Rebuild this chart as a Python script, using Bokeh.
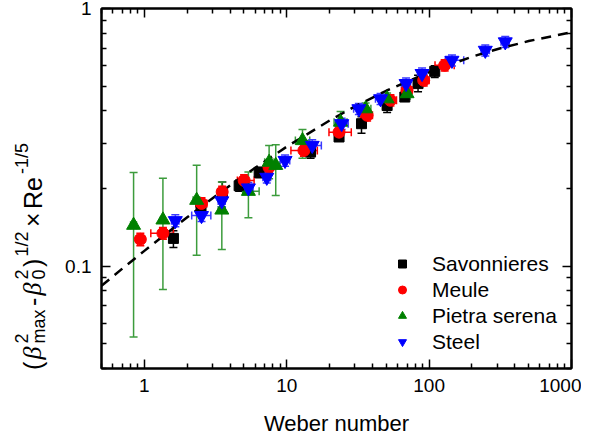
import math
from bokeh.plotting import figure
from bokeh.layouts import row
from bokeh.models import (LogAxis, FixedTicker, CustomJSTickFormatter, Whisker, TeeHead,
                          ColumnDataSource, Legend, LegendItem, Range1d)
from bokeh.embed import file_html
from bokeh.resources import INLINE

# ---------------- data ----------------
sav_we = [1.60, 2.5, 3.53, 4.63, 6.4, 14.7, 23.3, 33.5, 50.7, 67.5, 83.6, 109.5]
sav_y = [0.128, 0.170, 0.191, 0.205, 0.231, 0.277, 0.317, 0.357, 0.420, 0.453, 0.511, 0.570]
sav_ylo = [0.118, 0.158, 0.178, 0.195, 0.220, 0.262, 0.305, 0.328, 0.395, 0.440, 0.475, 0.540]
sav_yhi = [0.137, 0.182, 0.212, 0.216, 0.242, 0.292, 0.330, 0.380, 0.440, 0.468, 0.550, 0.600]
sav_welo = [1.52, 2.35, 3.35, 4.40, 6.05, 13.6, 21.8, 31.5, 47.5, 63.5, 78.5, 103.0]
sav_wehi = [1.68, 2.65, 3.72, 4.86, 6.75, 15.8, 24.8, 35.5, 54.0, 71.5, 88.5, 116.0]

meu_we = [0.937, 1.35, 2.52, 3.52, 5.02, 7.5, 13.2, 23.3, 36.7, 53.5, 70.0, 91.6, 128.6]
meu_y = [0.127, 0.134, 0.175, 0.194, 0.215, 0.242, 0.281, 0.331, 0.385, 0.440, 0.481, 0.526, 0.602]
meu_ylo = [0.120, 0.127, 0.166, 0.184, 0.204, 0.230, 0.267, 0.315, 0.366, 0.418, 0.457, 0.500, 0.572]
meu_yhi = [0.134, 0.141, 0.184, 0.204, 0.226, 0.254, 0.295, 0.348, 0.404, 0.462, 0.505, 0.552, 0.632]
meu_welo = [0.88, 1.11, 2.30, 3.30, 4.50, 7.00, 10.7, 19.8, 33.0, 48.0, 64.0, 84.0, 110.0]
meu_wehi = [1.00, 1.60, 2.75, 3.75, 5.90, 8.00, 16.4, 28.4, 40.0, 59.0, 76.0, 100.0, 150.0]

pie_we = [0.84, 1.35, 2.33, 3.5, 5.38, 7.52, 8.37, 12.9, 23.9, 35.8, 50.7, 70.0]
pie_y = [0.144, 0.151, 0.180, 0.165, 0.195, 0.253, 0.246, 0.307, 0.362, 0.408, 0.446, 0.467]
pie_ylo = [0.053, 0.081, 0.110, 0.116, 0.154, 0.218, 0.188, 0.262, 0.330, 0.385, 0.425, 0.445]
pie_yhi = [0.231, 0.219, 0.246, 0.212, 0.232, 0.294, 0.296, 0.339, 0.398, 0.430, 0.470, 0.490]
pie_welo = [0.80, 1.30, 2.20, 3.30, 4.90, 7.00, 7.90, 11.5, 21.5, 33.0, 47.0, 65.0]
pie_wehi = [0.88, 1.40, 2.45, 3.70, 6.40, 8.00, 8.90, 14.5, 26.5, 39.0, 55.0, 75.0]

ste_we = [1.65, 2.52, 3.5, 5.38, 7.24, 9.73, 15.1, 24.3, 32.1, 45.6, 68.9, 89.2, 144.7, 248.0, 342.6]
ste_y = [0.150, 0.157, 0.179, 0.201, 0.221, 0.257, 0.294, 0.357, 0.408, 0.446, 0.511, 0.559, 0.629, 0.688, 0.742]
ste_ylo = [0.142, 0.149, 0.170, 0.191, 0.210, 0.244, 0.279, 0.339, 0.388, 0.424, 0.485, 0.531, 0.598, 0.654, 0.705]
ste_yhi = [0.158, 0.165, 0.188, 0.211, 0.232, 0.270, 0.309, 0.375, 0.428, 0.468, 0.537, 0.587, 0.660, 0.722, 0.779]
ste_welo = [1.55, 2.15, 3.30, 5.00, 6.80, 9.00, 13.5, 22.0, 29.5, 42.0, 64.0, 83.0, 130.0, 232.0, 320.0]
ste_wehi = [1.75, 2.93, 3.70, 5.80, 7.70, 10.5, 17.5, 27.0, 35.0, 49.0, 74.0, 96.0, 175.0, 265.0, 365.0]

# dashed fit curve
fit_we = [0.5, 0.7, 1, 2, 3, 5, 10, 20, 30, 50, 100, 200, 300, 500, 1000]
fit_y = [0.0838, 0.0977, 0.1145, 0.1547, 0.183, 0.2246, 0.2908, 0.3673, 0.416, 0.4793,
         0.5663, 0.6497, 0.695, 0.7473, 0.8086]

x_major = [1, 10, 100, 1000]
x_minor = [0.5, 0.6, 0.7, 0.8, 0.9, 2, 3, 4, 5, 6, 7, 8, 9, 20, 30, 40, 50, 60, 70, 80, 90,
           200, 300, 400, 500, 600, 700, 800, 900]
y_major = [0.1, 1]
y_minor = [0.04, 0.05, 0.06, 0.07, 0.08, 0.09, 0.2, 0.3, 0.4, 0.5, 0.6, 0.7, 0.8, 0.9]

series_names = ["Savonnieres", "Meule", "Pietra serena", "Steel"]

FONT = "Liberation Sans"
X0, X1, Y0, Y1 = 0.5, 1000.0, 0.04, 1.0
FW, FH = 470, 360
LW = 60            # width of the strip that carries the y-axis title
LH = 400           # its height; its data units are page pixels

p = figure(x_axis_type="log", y_axis_type="log",
           x_range=Range1d(X0, X1), y_range=Range1d(Y0, Y1),
           frame_width=FW, frame_height=FH,
           min_border_left=101 - LW, min_border_right=10, min_border_top=8, min_border_bottom=10,
           output_backend="svg", toolbar_location=None)
p.xgrid.visible = False
p.ygrid.visible = False
p.outline_line_color = "black"
p.outline_line_width = 2
p.outline_line_alpha = 1.0
p.background_fill_color = "white"
p.border_fill_color = "white"

xt = FixedTicker(ticks=x_major, minor_ticks=x_minor)
yt = FixedTicker(ticks=y_major, minor_ticks=y_minor)
fmt = CustomJSTickFormatter(code="return String(tick);")


def style_axis(ax, labels=True):
    ax.axis_line_width = 2
    ax.axis_line_color = "black"
    ax.major_tick_in = 9
    ax.major_tick_out = 0
    ax.minor_tick_in = 5
    ax.minor_tick_out = 0
    ax.major_tick_line_width = 1.5
    ax.minor_tick_line_width = 1.5
    ax.major_tick_line_color = "black"
    ax.minor_tick_line_color = "black"
    if labels:
        ax.major_label_text_font = FONT
        ax.major_label_text_font_size = "19px"
        ax.major_label_text_color = "black"
    else:
        ax.major_label_text_font_size = "1px"
        ax.major_label_text_color = None
        ax.major_label_standoff = 0


p.xaxis.ticker = xt
p.yaxis.ticker = yt
p.xaxis.formatter = fmt
p.yaxis.formatter = fmt
style_axis(p.xaxis[0])
style_axis(p.yaxis[0])
p.xaxis.major_label_standoff = 10
p.yaxis.major_label_standoff = 10
p.xaxis.axis_label = "Weber number"
p.xaxis.axis_label_text_font = FONT
p.xaxis.axis_label_text_font_size = "22px"
p.xaxis.axis_label_text_font_style = "normal"
p.xaxis.axis_label_text_color = "black"
p.xaxis.axis_label_standoff = 16

top = LogAxis(ticker=xt, formatter=fmt)
style_axis(top, labels=False)
p.add_layout(top, "above")
right = LogAxis(ticker=yt, formatter=fmt)
style_axis(right, labels=False)
p.add_layout(right, "right")

# fit line
p.line(fit_we, fit_y, line_color="black", line_width=2.5, line_dash="10 7")

specs = [
    (sav_we, sav_y, sav_ylo, sav_yhi, sav_welo, sav_wehi, "black", "black", "square", 10),
    (meu_we, meu_y, meu_ylo, meu_yhi, meu_welo, meu_wehi, "#ff0000", "#ff0000", "circle", 12),
    (pie_we, pie_y, pie_ylo, pie_yhi, pie_welo, pie_wehi, "#008000", "#3c9c3c", "triangle", 14),
    (ste_we, ste_y, ste_ylo, ste_yhi, ste_welo, ste_wehi, "#0000ff", "#3a3aff", "inverted_triangle", 14),
]

renderers = []
for we, y, ylo, yhi, welo, wehi, col, ecol, marker, size in specs:
    src = ColumnDataSource(dict(we=we, y=y, ylo=ylo, yhi=yhi, welo=welo, wehi=wehi))
    wv = Whisker(source=src, base="we", lower="ylo", upper="yhi", dimension="height",
                 line_color=ecol, line_width=1.5,
                 lower_head=TeeHead(size=8, line_color=ecol, line_width=1.5),
                 upper_head=TeeHead(size=8, line_color=ecol, line_width=1.5))
    wh = Whisker(source=src, base="y", lower="welo", upper="wehi", dimension="width",
                 line_color=ecol, line_width=1.5,
                 lower_head=TeeHead(size=8, line_color=ecol, line_width=1.5),
                 upper_head=TeeHead(size=8, line_color=ecol, line_width=1.5))
    p.add_layout(wv)
    p.add_layout(wh)
    r = p.scatter("we", "y", source=src, marker=marker, size=size,
                  fill_color=col, line_color=col, line_width=1)
    renderers.append(r)

legend = Legend(items=[LegendItem(label=n, renderers=[r]) for n, r in zip(series_names, renderers)],
                location=(291, 14), border_line_color=None, background_fill_alpha=0,
                label_text_font=FONT, label_text_font_size="21px", label_text_color="black",
                glyph_width=20, glyph_height=25, label_height=25, spacing=1,
                padding=0, margin=0, label_standoff=20)
p.add_layout(legend)

# ---- y-axis title: a narrow strip figure whose data units are page pixels ----
t = figure(frame_width=LW, frame_height=LH, x_range=Range1d(0, LW), y_range=Range1d(0, LH),
           x_axis_location=None, y_axis_location=None,
           min_border_left=0, min_border_right=0, min_border_top=0, min_border_bottom=0,
           output_backend="svg", toolbar_location=None)
t.xgrid.visible = False
t.ygrid.visible = False
t.outline_line_color = None
t.background_fill_color = "white"
t.border_fill_color = "white"

# (text, font size, raise in px, italic greek?, advance along the title)
pieces = [
    ("(", 25, 0, False, 10.5),
    ("\u03b2", 26, 0, True, 16.0),
    ("2", 18, 11, False, 0),
    ("max", 18, -6, False, 37.5),
    ("-", 25, 0, False, 10.5),
    ("\u03b2", 26, 0, True, 16.0),
    ("2", 18, 11, False, 0),
    ("0", 18, -6, False, 12.5),
    (")", 25, 0, False, 10.5),
    ("1/2", 18, 11, False, 29.5),
    ("\u00d7", 25, 0, False, 18.0),
    ("Re", 25, 0, False, 35.0),
    ("-1/5", 18, 11, False, 31.0),
]
total = sum(pc[4] for pc in pieces)
base_px = 32.0
pos = 248.0 + total / 2.0        # page y where the title starts (it reads upward)
tx, ty, tt, tf, ts, tsz = [], [], [], [], [], []
for txt, fs, rise, greek, adv in pieces:
    tx.append(base_px - rise)
    ty.append(LH - pos)
    tt.append(txt)
    tf.append("Liberation Serif" if greek else FONT)
    ts.append("italic" if greek else "normal")
    tsz.append(f"{fs}px")
    pos -= adv
tsrc = ColumnDataSource(dict(x=tx, y=ty, text=tt, font=tf, style=ts, size=tsz))
t.text(x="x", y="y", text="text", source=tsrc, angle=math.pi / 2,
       text_font="font", text_font_style="style", text_font_size="size",
       text_color="black", text_align="left", text_baseline="alphabetic")

layout = row(t, p, spacing=0)
open("out.html", "w").write(file_html(layout, INLINE))
